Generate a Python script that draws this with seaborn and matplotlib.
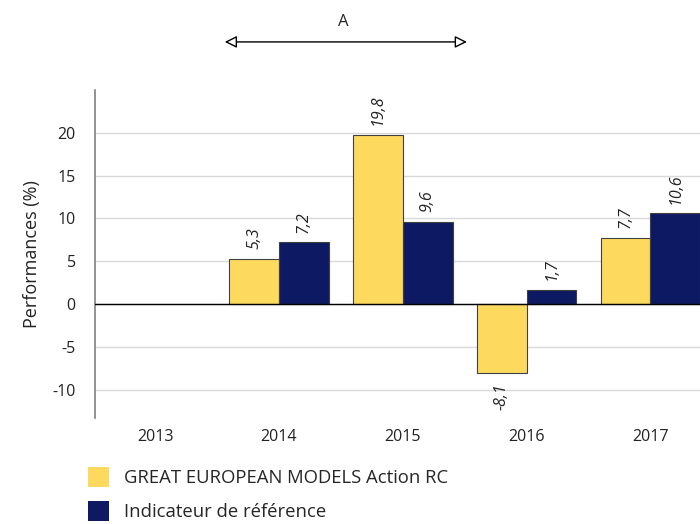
import pandas as pd
import seaborn as sns
import matplotlib.pyplot as plt
import matplotlib.transforms as mtransforms
from matplotlib.patches import Patch

years = ['2013', '2014', '2015', '2016', '2017']
data_years = ['2014', '2015', '2016', '2017']
fund_values = [5.3, 19.8, -8.1, 7.7]
bench_values = [7.2, 9.6, 1.7, 10.6]
series_names = ['GREAT EUROPEAN MODELS Action RC', 'Indicateur de référence']
colors = ['#FDDA5E', '#0D1A63']

df = pd.DataFrame({
    'Year': data_years * 2,
    'Perf': fund_values + bench_values,
    'Serie': [series_names[0]] * 4 + [series_names[1]] * 4,
})

sns.set_theme(style='white')
plt.rcParams['font.family'] = ['Open Sans', 'DejaVu Sans']

fig = plt.figure(figsize=(7, 5.24), dpi=100)
ax = fig.add_axes([0.136, 0.2023, 0.864, 0.6259])

sns.barplot(data=df, x='Year', y='Perf', hue='Serie', order=years,
            hue_order=series_names, palette=colors, saturation=1, errorbar=None,
            width=0.805, edgecolor='#404040', linewidth=0.8, legend=False, ax=ax)

for cont in ax.containers:
    labels = [f'{v:.1f}'.replace('.', ',') for v in cont.datavalues]
    ax.bar_label(cont, labels=labels, rotation=90, padding=7,
                 fontsize=11.5, fontstyle='italic', color='#222222')

ax.set_xlim(-0.484, 4.4)
ax.set_ylim(-13.3, 25)
ax.set_yticks([-10, -5, 0, 5, 10, 15, 20])
ax.set_yticklabels(['-10', '-5', '0', '5', '10', '15', '20'])
ax.yaxis.grid(True, color='#D9D9D9', linewidth=1)
ax.set_axisbelow(True)
ax.axhline(0, color='black', linewidth=1, zorder=3)

for side in ['top', 'right', 'bottom']:
    ax.spines[side].set_visible(False)
ax.spines['left'].set_color('#808080')
ax.spines['left'].set_linewidth(1.2)
ax.tick_params(axis='both', length=0, labelsize=11.5, colors='#222222')
ax.tick_params(axis='y', pad=14)
ax.tick_params(axis='x', pad=8)
ax.set_xlabel('')
ax.set_ylabel('Performances (%)', fontsize=13, color='#222222', labelpad=8)

# arrow "A" above the chart
trans = mtransforms.blended_transform_factory(ax.transData, fig.transFigure)
ax.annotate('', xy=(0.54, 0.92), xytext=(2.54, 0.92), xycoords=trans, textcoords=trans,
            arrowprops=dict(arrowstyle='<|-|>', edgecolor='black', lw=1,
                            facecolor='white', mutation_scale=18),
            annotation_clip=False)
ax.text(1.52, 0.958, 'A', transform=trans, ha='center', va='center', fontsize=12)

handles = [Patch(facecolor=c, edgecolor='none') for c in colors]
fig.legend(handles, series_names, loc='upper left', bbox_to_anchor=(0.126, 0.108),
           frameon=False, fontsize=13.3, handlelength=1.1, handleheight=1.25,
           handletextpad=0.85, labelspacing=0.75, borderaxespad=0, borderpad=0)

fig.savefig('out.png', dpi=100)
